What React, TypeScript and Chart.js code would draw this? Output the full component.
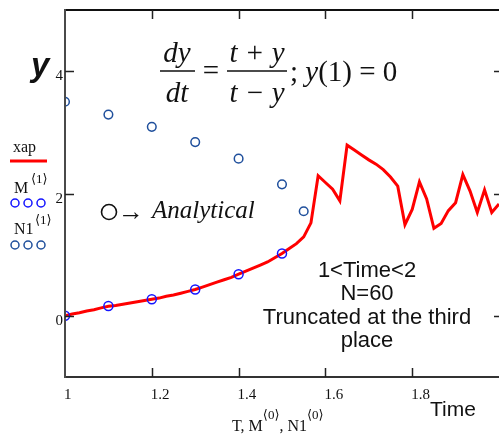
import { useEffect, useRef } from "react";
import { Chart, registerables } from "chart.js";

Chart.register(...registerables);

// Time grid (N = 60 steps on 1 < Time < 2)
const T = [
  1, 1.0167, 1.0333, 1.05, 1.0667, 1.0833, 1.1, 1.1167, 1.1333, 1.15,
  1.1667, 1.1833, 1.2, 1.2167, 1.2333, 1.25, 1.2667, 1.2833, 1.3, 1.3167,
  1.3333, 1.35, 1.3667, 1.3833, 1.4, 1.4167, 1.4333, 1.45, 1.4667, 1.4833,
  1.5, 1.5167, 1.5333, 1.55, 1.5667, 1.5833, 1.6, 1.6167, 1.6333, 1.65,
  1.6667, 1.6833, 1.7, 1.7167, 1.7333, 1.75, 1.7667, 1.7833, 1.8, 1.8167,
  1.8333, 1.85, 1.8667, 1.8833, 1.9, 1.9167, 1.9333, 1.95, 1.9667, 1.9833, 2,
];
// approximate solution "xap" (truncated at the third place)
const XAP = [
  0, 0.03, 0.05, 0.08, 0.1, 0.13, 0.155, 0.17, 0.19, 0.21,
  0.23, 0.25, 0.27, 0.29, 0.32, 0.34, 0.37, 0.4, 0.43, 0.47,
  0.51, 0.55, 0.59, 0.63, 0.68, 0.73, 0.78, 0.83, 0.88, 0.95,
  1.02, 1.1, 1.18, 1.29, 1.52, 2.29, 2.18, 2.07, 1.88, 2.79,
  2.71, 2.63, 2.55, 2.48, 2.39, 2.27, 2.12, 1.49, 1.74, 2.19,
  1.91, 1.43, 1.51, 1.72, 1.85, 2.31, 2.04, 1.69, 2.06, 1.69, 1.83,
];
// analytical solution, lower branch (M)
const M_T = [1, 1.1, 1.2, 1.3, 1.4, 1.5];
const M_Y = [0, 0.16, 0.27, 0.43, 0.68, 1.02];
// analytical solution, upper branch (N1)
const N1_T = [1, 1.1, 1.2, 1.3, 1.4, 1.5, 1.55];
const N1_Y = [3.5, 3.29, 3.09, 2.84, 2.57, 2.15, 1.71];

const X_TICKS = [1, 1.2, 1.4, 1.6, 1.8];
const X_TICK_LABELS = ["1", "1.2", "1.4", "1.6", "1.8"];
const Y_TICKS = [0, 2, 4];
const Y_TICK_LABELS = ["0", "2", "4"];
const NOTE_LINES = ["1<Time<2", "N=60", "Truncated at the third", "place"];

const RED = "#ff0000";
const BLUE = "#1414ff";
const DARKBLUE = "#1f4f9c";
const SERIF = '"Liberation Serif", "DejaVu Serif", serif';
const SANS = '"Liberation Sans", Arial, sans-serif';

function drawPieces(
  ctx: CanvasRenderingContext2D,
  x: number,
  pieces: { t: string; font: string; dy?: number }[],
  baseline: number
) {
  let cx = x;
  for (const p of pieces) {
    ctx.font = p.font;
    ctx.fillText(p.t, cx, baseline + (p.dy || 0));
    cx += ctx.measureText(p.t).width;
  }
  return cx;
}

const decorPlugin = {
  id: "decor",
  afterDraw(chart: any) {
    const ctx: CanvasRenderingContext2D = chart.ctx;
    const { left, right, top, bottom } = chart.chartArea;
    const xs = chart.scales.x;
    const ys = chart.scales.y;
    ctx.save();
    ctx.lineCap = "butt";
    // frame
    ctx.lineWidth = 2;
    ctx.strokeStyle = "#111";
    ctx.beginPath();
    ctx.moveTo(left, top);
    ctx.lineTo(right, top);
    ctx.stroke();
    ctx.strokeStyle = "#333";
    ctx.beginPath();
    ctx.moveTo(left, bottom);
    ctx.lineTo(right, bottom);
    ctx.stroke();
    ctx.strokeStyle = "#4a4a4a";
    ctx.beginPath();
    ctx.moveTo(left, top - 1);
    ctx.lineTo(left, bottom + 1);
    ctx.stroke();
    // ticks
    ctx.lineWidth = 1.5;
    ctx.strokeStyle = "#222";
    X_TICKS.forEach((v) => {
      if (v === 1) return;
      const px = Math.round(xs.getPixelForValue(v)) + 0.5;
      ctx.beginPath();
      ctx.moveTo(px, bottom);
      ctx.lineTo(px, bottom - 9);
      ctx.moveTo(px, top);
      ctx.lineTo(px, top + 9);
      ctx.stroke();
    });
    Y_TICKS.forEach((v) => {
      const py = Math.round(ys.getPixelForValue(v)) + 0.5;
      ctx.beginPath();
      ctx.moveTo(left, py);
      ctx.lineTo(left + 9, py);
      ctx.moveTo(right + 3, py);
      ctx.lineTo(right - 5, py);
      ctx.stroke();
    });
    // tick labels
    ctx.fillStyle = "#111";
    ctx.font = `15px ${SERIF}`;
    ctx.textBaseline = "alphabetic";
    ctx.textAlign = "center";
    X_TICKS.forEach((v, i) => {
      const px = xs.getPixelForValue(v);
      const w = ctx.measureText(X_TICK_LABELS[i]).width;
      ctx.fillText(X_TICK_LABELS[i], px + w / 2 - 1, 399);
    });
    ctx.textAlign = "right";
    Y_TICKS.forEach((v, i) => {
      const py = ys.getPixelForValue(v);
      ctx.fillText(Y_TICK_LABELS[i], left - 2, py + 9);
    });
    ctx.textAlign = "left";
    // axis titles
    ctx.font = `italic bold 33px ${SANS}`;
    ctx.fillText("y", 31, 76);
    ctx.font = `21px ${SANS}`;
    ctx.fillText("Time", 430, 416);
    const f16 = `16px ${SERIF}`;
    const f13 = `13px ${SERIF}`;
    drawPieces(
      ctx,
      232,
      [
        { t: "T, M", font: f16 },
        { t: "⟨0⟩", font: f13, dy: -12 },
        { t: ", N1", font: f16 },
        { t: "⟨0⟩", font: f13, dy: -12 },
      ],
      431
    );
    // legend
    ctx.font = `16px ${SERIF}`;
    ctx.fillText("xap", 13, 152);
    ctx.strokeStyle = RED;
    ctx.lineWidth = 3;
    ctx.beginPath();
    ctx.moveTo(10, 161);
    ctx.lineTo(47, 161);
    ctx.stroke();
    ctx.fillStyle = "#111";
    drawPieces(ctx, 14, [{ t: "M", font: `16px ${SERIF}` }], 193);
    drawPieces(ctx, 31, [{ t: "⟨1⟩", font: `13px ${SERIF}` }], 183);
    drawPieces(ctx, 14, [{ t: "N1", font: `16px ${SERIF}` }], 234);
    drawPieces(ctx, 35, [{ t: "⟨1⟩", font: `13px ${SERIF}` }], 224);
    ctx.lineWidth = 1.5;
    [15, 28, 41].forEach((cx) => {
      ctx.strokeStyle = BLUE;
      ctx.beginPath();
      ctx.arc(cx, 203, 4, 0, Math.PI * 2);
      ctx.stroke();
      ctx.strokeStyle = DARKBLUE;
      ctx.beginPath();
      ctx.arc(cx, 245, 4, 0, Math.PI * 2);
      ctx.stroke();
    });
    // equation
    ctx.fillStyle = "#111";
    ctx.strokeStyle = "#111";
    const fi = `italic 29px ${SERIF}`;
    const fr = `29px ${SERIF}`;
    ctx.textAlign = "center";
    ctx.font = fi;
    ctx.fillText("dy", 177, 62);
    ctx.fillText("dt", 177, 102);
    ctx.fillText("t + y", 257, 62);
    ctx.fillText("t − y", 257, 102);
    ctx.font = fr;
    ctx.fillText("=", 211, 80);
    ctx.lineWidth = 1.3;
    ctx.beginPath();
    ctx.moveTo(160, 71);
    ctx.lineTo(195, 71);
    ctx.moveTo(227, 71);
    ctx.lineTo(287, 71);
    ctx.stroke();
    ctx.textAlign = "left";
    drawPieces(
      ctx,
      290,
      [
        { t: "; ", font: fr },
        { t: "y", font: fi },
        { t: "(1) = 0", font: fr },
      ],
      81
    );
    // analytical marker
    ctx.lineWidth = 1.6;
    ctx.beginPath();
    ctx.arc(109, 212, 7.5, 0, Math.PI * 2);
    ctx.stroke();
    ctx.font = `26px ${SERIF}`;
    ctx.fillText("→", 118, 220);
    ctx.font = `italic 25px ${SERIF}`;
    ctx.fillText("Analytical", 152, 218);
    // note
    ctx.font = `22px ${SANS}`;
    ctx.textAlign = "center";
    const bases = [277, 300, 324, 347];
    NOTE_LINES.forEach((s, i) => ctx.fillText(s, 367, bases[i]));
    ctx.restore();
  },
};

export default function App() {
  const ref = useRef<HTMLCanvasElement | null>(null);
  useEffect(() => {
    if (!ref.current) return;
    const chart = new Chart(ref.current, {
      type: "scatter",
      data: {
        datasets: [
          {
            label: "xap",
            data: T.map((t, i) => ({ x: t, y: XAP[i] })),
            showLine: true,
            borderColor: RED,
            borderWidth: 3,
            pointRadius: 0,
            tension: 0,
            order: 3,
          },
          {
            label: "M",
            data: M_T.map((t, i) => ({ x: t, y: M_Y[i] })),
            showLine: false,
            pointRadius: 4.5,
            pointBorderWidth: 1.5,
            pointBorderColor: BLUE,
            pointBackgroundColor: "rgba(0,0,0,0)",
            order: 1,
          },
          {
            label: "N1",
            data: N1_T.map((t, i) => ({ x: t, y: N1_Y[i] })),
            showLine: false,
            pointRadius: 4.3,
            pointBorderWidth: 1.5,
            pointBorderColor: DARKBLUE,
            pointBackgroundColor: "rgba(0,0,0,0)",
            order: 2,
          },
        ],
      },
      options: {
        animation: false,
        responsive: false,
        events: [],
        layout: { autoPadding: false, padding: { left: 65, right: -1, top: 10, bottom: 62 } },
        plugins: { legend: { display: false }, tooltip: { enabled: false } },
        scales: {
          x: { type: "linear", min: 1, max: 2, display: false },
          y: { type: "linear", min: -1, max: 5, display: false },
        },
      },
      plugins: [decorPlugin],
    });
    return () => chart.destroy();
  }, []);
  return (
    <div style={{ position: "absolute", left: 0, top: 0, width: 499, height: 439, background: "#fff" }}>
      <canvas ref={ref} width={499} height={439} style={{ display: "block" }} />
    </div>
  );
}
